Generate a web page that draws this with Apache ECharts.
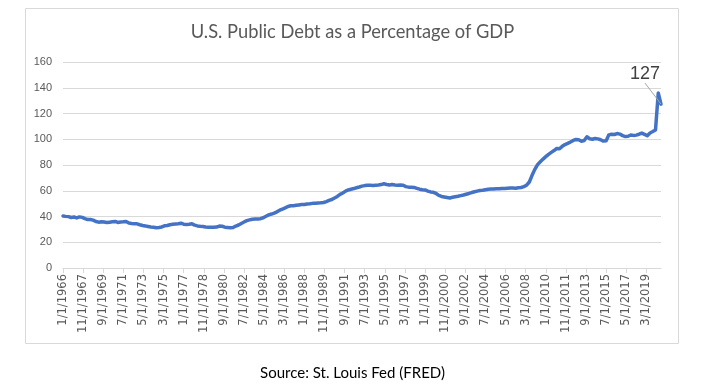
<!DOCTYPE html>
<html>
<head>
<meta charset="utf-8">
<script src="https://cdn.jsdelivr.net/npm/echarts@6/dist/echarts.min.js"></script>
<style>
  html, body { margin: 0; padding: 0; background: #ffffff; }
  #chart { width: 705px; height: 388px; }
</style>
</head>
<body>
<div id="chart"></div>
<script>
// ---- Data ----
const chartTitle = 'U.S. Public Debt as a Percentage of GDP';
const sourceText = 'Source: St. Louis Fed (FRED)';
const startYear = 1966;
const endYear = 2020;
const endMonth = 7; // last observation: 7/1/2020

// Quarterly values (Jan, Apr, Jul, Oct of each year), 1966 Q1 .. 2020 Q3
const debtPct1966to1979 = [
  40.4, 40.1, 39.9, 39.2,
  39.6, 38.9, 39.7, 39.3,
  38.3, 37.6, 37.7, 37.2,
  36.1, 35.6, 35.9, 35.7,
  35.3, 35.6, 35.9, 36.2,
  35.4, 35.8, 35.9, 36.1,
  34.9, 34.5, 34.4, 34.3,
  33.6, 33.0, 32.7, 32.3,
  31.9, 31.6, 31.3, 31.5,
  31.9, 32.8, 33.0, 33.6,
  33.9, 34.2, 34.4, 34.8,
  34.0, 33.8, 34.0, 34.3,
  33.3, 32.7, 32.4, 32.2,
  31.8, 31.7, 31.6, 31.7
];
const debtPct1980to1993 = [
  31.8, 32.6, 32.4, 31.7,
  31.5, 31.3, 31.4, 32.6,
  33.4, 34.6, 35.7, 36.8,
  37.4, 37.9, 38.0, 38.1,
  38.3, 39.0, 40.2, 41.3,
  41.9, 42.6, 43.6, 44.9,
  45.8, 46.7, 47.8, 48.3,
  48.4, 48.7, 49.0, 49.3,
  49.4, 49.7, 49.9, 50.2,
  50.3, 50.5, 50.6, 50.9,
  51.6, 52.5, 53.2, 54.4,
  55.6, 57.2, 58.3, 59.7,
  60.6, 61.2, 61.7, 62.3,
  62.9, 63.6, 64.0, 64.3
];
const debtPct1994to2007 = [
  64.3, 64.1, 64.3, 64.5,
  64.8, 65.4, 64.9, 64.5,
  64.8, 64.4, 64.2, 64.4,
  64.3, 63.2, 62.8, 62.7,
  62.6, 61.9, 61.2, 60.8,
  60.6, 59.7, 59.1, 58.8,
  57.9, 56.4, 55.6, 55.2,
  54.8, 54.4, 54.9, 55.3,
  55.7, 56.2, 56.7, 57.3,
  57.9, 58.6, 59.2, 59.7,
  60.2, 60.4, 60.8, 61.2,
  61.4, 61.3, 61.5, 61.6,
  61.8, 61.7, 62.0, 62.2,
  62.2, 61.9, 62.3, 62.5
];
const debtPct2008to2020 = [
  63.2, 64.3, 66.8, 72.0,
  76.6, 80.3, 82.5, 84.6,
  86.5, 88.3, 89.8, 91.2,
  92.8, 92.6, 94.5, 95.9,
  96.8, 97.9, 99.1, 99.8,
  99.6, 98.5, 99.0, 101.9,
  100.4, 100.0, 100.6, 100.3,
  99.6, 98.6, 98.9, 103.4,
  103.9, 103.7, 104.4, 104.0,
  102.8, 102.1, 102.3, 103.3,
  103.0, 103.2, 103.9, 104.8,
  103.8, 102.8, 104.9, 106.0,
  107.2, 135.9, 127.3
];
const quarterlyDebtPct = [].concat(debtPct1966to1979, debtPct1980to1993, debtPct1994to2007, debtPct2008to2020);

const yMin = 0, yMax = 160, yStep = 20;
const labelEvery = 22; // months between axis labels

// Monthly category labels M/1/YYYY
const categories = [];
for (let y = startYear; y <= endYear; y++) {
  for (let m = 1; m <= 12; m++) {
    if (y === endYear && m > endMonth) break;
    categories.push(m + '/1/' + y);
  }
}

// Place each quarterly value on its month; other months stay empty
const seriesData = categories.map(() => null);
quarterlyDebtPct.forEach((v, i) => { seriesData[i * 3] = v; });
const lastIdx = (quarterlyDebtPct.length - 1) * 3;
seriesData[lastIdx] = {
  value: quarterlyDebtPct[quarterlyDebtPct.length - 1],
  label: {
    show: true,
    position: 'top',
    formatter: p => String(Math.round(p.value)),
    fontFamily: 'Liberation Sans',
    fontSize: 18,
    color: '#404040'
  }
};

const chart = echarts.init(document.getElementById('chart'), null, { renderer: 'canvas' });
chart.setOption({
  animation: false,
  backgroundColor: '#ffffff',
  title: [{
    text: chartTitle,
    left: 'center',
    top: 18,
    textStyle: { fontFamily: 'Lato', fontWeight: 'normal', fontSize: 18.3, color: '#595959' }
  }, {
    text: sourceText,
    left: 'center',
    top: 361,
    textStyle: { fontFamily: 'Lato', fontWeight: 'normal', fontSize: 15, color: '#000000' }
  }],
  graphic: [{
    type: 'rect',
    shape: { x: 25.5, y: 8.5, width: 653, height: 335 },
    style: { fill: null, stroke: '#d9d9d9', lineWidth: 1 },
    silent: true,
    z: -1
  }],
  grid: { left: 63, right: 44, top: 62, bottom: 120 },
  xAxis: {
    type: 'category',
    data: categories,
    boundaryGap: false,
    axisLine: { show: true, lineStyle: { color: '#d9d9d9', width: 1 } },
    axisTick: { show: true, interval: labelEvery - 1, length: 5, lineStyle: { color: '#d9d9d9' } },
    axisLabel: {
      interval: labelEvery - 1,
      rotate: 90,
      margin: 6,
      fontFamily: 'DejaVu Sans',
      fontSize: 11.5,
      color: '#595959'
    },
    splitLine: { show: false }
  },
  yAxis: {
    type: 'value',
    min: yMin,
    max: yMax,
    interval: yStep,
    axisLine: { show: false },
    axisTick: { show: false },
    axisLabel: { margin: 11, fontFamily: 'Liberation Sans', fontSize: 11, color: '#595959' },
    splitLine: { show: true, lineStyle: { color: '#d9d9d9', width: 1 } }
  },
  series: [{
    type: 'line',
    data: seriesData,
    connectNulls: true,
    showSymbol: true,
    showAllSymbol: true,
    symbol: 'circle',
    symbolSize: 0.1,
    lineStyle: { color: '#4472C4', width: 3.5, join: 'round', cap: 'round' },
    itemStyle: { color: '#4472C4' },
    label: { show: false },
    labelLine: { show: true, lineStyle: { color: '#a6a6a6', width: 1 } },
    labelLayout: { dx: -16, dy: -16 }
  }]
});
</script>
</body>
</html>
